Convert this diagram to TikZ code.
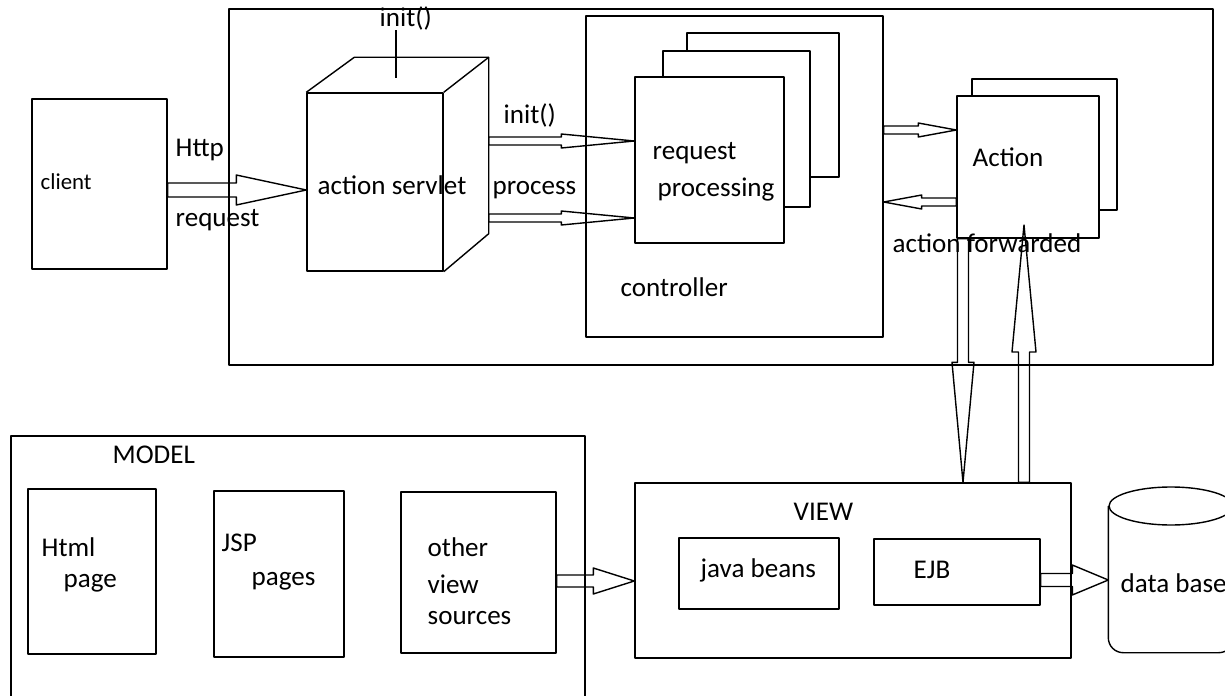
\documentclass[tikz,border=0pt]{standalone}
\usepackage{fontspec}
\setmainfont{Carlito}
\usetikzlibrary{calc,fit}
\tikzset{
  box/.style={draw,inner sep=0pt},
  lbl/.style={anchor=west,inner sep=0pt,font=\fontsize{15.4}{18}\selectfont},
  % hollow block arrow: shaft half width, head half width, head length
  fat/.style n args={3}{to path={
    ($(\tikztostart)!#1!90:(\tikztotarget)$)
    -- ($(\tikztotarget)!#3!(\tikztostart)!#1!-90:(\tikztostart)$)
    -- ($(\tikztotarget)!#3!(\tikztostart)!#2!-90:(\tikztostart)$)
    -- (\tikztotarget)
    -- ($(\tikztotarget)!#3!(\tikztostart)!#2!90:(\tikztostart)$)
    -- ($(\tikztotarget)!#3!(\tikztostart)!#1!90:(\tikztostart)$)
    -- ($(\tikztostart)!#1!-90:(\tikztotarget)$) -- cycle}}
}
\begin{document}
\begin{tikzpicture}[x=.02cm,y=-.02cm,line width=.8pt,line join=round]
  \useasboundingbox (0,0) rectangle (1225,696);
  \clip (0,0) rectangle (1225,696);

  % controller tier
  \node[box,fit={(229,9) (1213,365)}] (webtier) {};
  \node[box,fit={(32,99) (167,269)}] (client) {};
  \node[lbl,font=\fontsize{13}{15}\selectfont] (clientlbl) at (40,182) {client};
  \node[lbl] (http) at (175,150) {Http};
  \node[lbl] (httpreq) at (175,220) {request};

  \node[box,fit={(307,93) (443,271)}] (servlet) {};
  \draw (servlet.north west) -- ++(48,-35) -| ($(servlet.south east)+(45,-38)$) -- (servlet.south east);
  \draw (servlet.north east) -- ++(45,-35);
  \coordinate (sback) at ($(servlet.east)+(45,0)$);
  \node[lbl] (servletlbl) at (317,185) {action servlet};
  \node[lbl] (inittop) at (379,18) {init()};
  \coordinate (cubetop) at (396,78);
  \draw (inittop.south -| cubetop) -- (cubetop);

  \node[box,fit={(586,16) (883,337)}] (ctrl) {};
  \node[lbl] (ctrllbl) at (620,287) {controller};
  \node[box,fit={(635,77) (784,243)}] (req) {};
  \draw (663,77) |- (810,51) -- (810,207) -- (req.east |- 0,207);
  \draw (687,51) |- (839,33) -- (839,177) -- (810,177);
  \node[lbl] (reqlbl) at (652,153) {request};
  \node[lbl] (proclbl) at (657,190) {processing};
  \node[lbl] (initlbl) at (503,115) {init()};
  \node[lbl] (processlbl) at (492,190) {process};

  \node[box,fit={(957,96) (1099,238)}] (action) {};
  \draw (972,96) |- (1117,79) -- (1117,210) -- (action.east |- 0,210);
  \node[lbl] (actionlbl) at (972,157) {Action};
  \node[lbl] (fwdlbl) at (892,243) {action forwarded};

  % model and view
  \node[box,fit={(11,436) (585,710)}] (model) {};
  \node[lbl] (modellbl) at (112,455) {MODEL};
  \node[box,fit={(28,489) (156,654)}] (html) {};
  \node[lbl] (html1) at (41,547) {Html};
  \node[lbl] (html2) at (63,583) {page};
  \node[box,fit={(214,491) (344,657)}] (jsp) {};
  \node[lbl] (jsp1) at (221,543) {JSP};
  \node[lbl] (jsp2) at (251,581) {pages};
  \node[box,fit={(401,492) (556,653)}] (other) {};
  \node[lbl] (other1) at (427,547) {other};
  \node[lbl] (other2) at (427,584) {view};
  \node[lbl] (other3) at (427,618) {sources};

  \node[box,fit={(635,483) (1071,658)}] (view) {};
  \node[lbl] (viewlbl) at (793,512) {VIEW};
  \node[box,fit={(679,538) (839,609)}] (beans) {};
  \node[lbl] (beanslbl) at (700,570) {java beans};
  \node[box,fit={(874,539) (1040,605)}] (ejb) {};
  \node[lbl] (ejblbl) at (913,570) {EJB};

  \node[inner sep=0pt,fit={(1109,487) (1233,652)}] (db) {};
  \draw[rounded corners=.3cm] (db.west |- 0,506) |- (db.south) -| (db.east |- 0,506);
  \draw (db.north |- 0,506) ellipse [x radius=1.24cm,y radius=.38cm];
  \node[lbl] (dblbl) at (1120,583) {data base};

  % block arrows
  \draw (client.east |- 0,190) to[fat={.14cm}{.3cm}{1.4cm}] (servlet.west |- 0,190);
  \draw (sback |- 0,141) to[fat={.08cm}{.14cm}{1.46cm}] (req.west |- 0,141);
  \draw (sback |- 0,218) to[fat={.08cm}{.14cm}{1.46cm}] (req.west |- 0,218);
  \draw (ctrl.east |- 0,130) to[fat={.08cm}{.14cm}{.76cm}] (action.west |- 0,130);
  \draw (action.west |- 0,202) to[fat={.08cm}{.14cm}{.76cm}] (ctrl.east |- 0,202);
  \draw (action.south -| 963,0) to[fat={.11cm}{.22cm}{2.4cm}] (view.north -| 963,0);
  \coordinate (fwdtip) at (1024,225);
  \draw (view.north -| fwdtip) to[fat={.11cm}{.24cm}{2.54cm}] (fwdtip);
  \draw (other.east |- 0,581) to[fat={.12cm}{.26cm}{.82cm}] (view.west |- 0,581);
  \draw (ejb.east |- 0,580) to[fat={.13cm}{.3cm}{.72cm}] (db.west |- 0,580);
\end{tikzpicture}
\end{document}
